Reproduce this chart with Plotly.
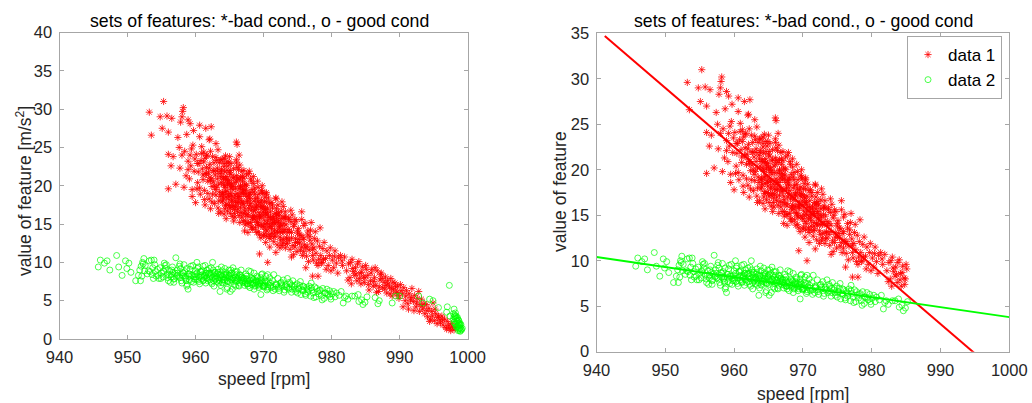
import plotly.graph_objects as go

# Values: (speed [rpm]) and (value of feature)
bad_speed_top = [953.2,955.3,953.5,954.8,955.1,955.8,956.5,956.0,958.2,958.1,958.0,957.8,958.9,959.2,960.6,962.3,961.5,959.7,958.7,957.4,
 960.6,962.0,966.0,963.0,966.4,956.0,956.7,958.0,959.4,957.6,965.0,966.0,963.7,956.4,957.7,958.9,957.1,956.0,958.3,959.5,
 958.4,958.9,959.3,959.6,960.1,960.4,960.8,958.6,959.1,959.8,960.3,960.9,959.2,959.9,960.5,961.0,961.2,960.2,960.7,961.4,959.5,961.1,961.6,960.0,966.1,962.1]
bad_value_top = [29.6,31.0,26.6,29.0,27.5,29.1,28.8,27.0,30.2,29.7,29.0,28.3,28.6,28.1,27.9,27.7,27.5,27.2,26.7,26.3,
 26.4,26.0,25.7,25.5,24.0,24.1,23.8,24.0,24.8,25.0,23.8,23.4,23.4,22.6,22.3,22.1,20.2,19.6,19.8,19.5,
 24.5,23.2,22.6,25.3,24.1,21.8,23.3,21.3,20.9,21.9,20.4,25.1,24.0,23.5,22.9,22.2,24.4,19.6,18.9,23.6,18.6,20.8,21.5,17.8,25.4,26.1]

bad_speed_a = [961.2,961.6,961.9,962.2,962.3,962.7,963.1,963.2,963.7,963.8,961.3,961.8,962.0,962.4,962.6,963.0,963.3,963.4,963.9,964.0,
 961.5,961.7,962.1,962.5,962.8,962.9,963.5,963.6,964.2,964.3,961.4,962.2,962.6,963.2,963.9,964.1,964.4,964.6,964.8,964.9,
 964.1,964.3,964.5,964.7,964.9,965.1,965.2,965.4,965.6,965.8,966.0,966.2,966.4,966.5,966.7,966.9,964.2,964.4,964.6,964.8,
 965.0,965.3,965.5,965.7,965.9,966.1,966.3,966.6,966.8,967.0,964.0,964.5,964.9,965.2,965.6,966.0,966.4,966.8,964.3,964.7,
 965.1,965.5,965.9,966.3,966.7,964.6,965.0,965.4,965.8,966.2,966.6,967.0,963.4,963.8,964.2,965.3,965.7,966.5,966.9,967.1]
bad_value_a = [23.1,22.4,21.7,24.5,20.9,23.0,19.8,22.3,21.2,20.4,19.4,20.6,18.3,19.9,22.0,18.8,24.7,20.2,23.4,19.1,
 21.6,24.0,22.8,23.8,17.7,21.4,23.0,18.6,22.5,20.0,17.5,17.0,20.5,21.9,17.9,21.1,23.9,19.3,22.6,20.7,
 18.4,21.8,17.6,20.1,23.1,19.0,21.5,17.2,22.2,18.8,20.6,16.6,19.6,22.7,18.1,21.2,16.3,19.2,22.0,17.5,
 20.3,18.7,21.0,16.9,19.7,22.4,17.8,20.0,15.9,18.9,20.9,15.7,18.2,22.9,15.4,21.3,16.1,21.9,19.8,16.7,
 17.1,19.5,17.3,18.6,19.1,20.8,21.7,16.0,20.4,17.0,21.1,17.7,16.4,22.1,23.6,20.2,18.4,15.2,20.6,22.0]

bad_speed_b = [967.0,967.2,967.3,967.5,967.7,967.8,968.0,968.2,968.3,968.5,968.7,968.8,969.0,969.2,969.3,969.5,969.7,969.8,970.0,967.1,
 967.4,967.6,967.9,968.1,968.4,968.6,968.9,969.1,969.4,969.6,969.9,970.1,967.2,967.5,967.8,968.2,968.5,968.8,969.1,969.5,
 969.8,970.2,967.3,967.7,968.0,968.4,968.7,969.0,969.3,969.7,970.0,970.3,967.6,968.1,968.6,969.2,969.6,970.4,967.1,967.9,
 970.1,970.3,970.5,970.7,970.9,971.1,971.3,971.5,971.7,971.9,972.1,972.3,972.5,972.7,972.9,970.2,970.4,970.6,970.8,971.0,
 971.2,971.4,971.6,971.8,972.0,972.2,972.4,972.6,972.8,973.0,970.3,970.7,971.1,971.5,971.9,972.3,972.7,970.5,970.9,971.3,
 971.7,972.1,972.5,972.9,973.1,969.4,970.6,971.8,972.4,973.2]
bad_value_b = [17.6,20.2,15.4,18.6,16.3,21.6,19.1,14.6,17.2,20.3,15.7,18.3,13.9,19.8,16.5,17.8,14.9,19.2,16.1,21.0,
 19.4,15.1,17.4,20.9,14.3,18.0,16.0,20.6,13.6,17.1,19.0,15.5,14.1,20.0,18.8,16.8,21.2,14.5,18.4,15.8,
 17.3,18.5,16.7,13.9,18.9,15.9,19.7,17.5,14.8,19.4,13.5,16.4,17.9,15.2,16.7,15.0,13.2,18.9,19.5,21.9,
 17.9,14.3,16.2,18.4,13.1,15.6,17.5,12.7,15.0,17.0,13.9,16.1,12.9,14.8,17.3,15.0,13.4,17.1,14.6,16.6,
 13.8,16.0,14.2,18.3,12.3,15.4,13.3,16.7,14.0,15.8,12.6,15.9,17.8,13.3,15.7,14.5,12.2,14.1,12.0,15.1,
 16.4,17.5,15.0,13.0,14.3,11.1,10.0,11.3,11.9,15.8]

bad_speed_c = [973.3,973.5,973.7,973.9,974.1,974.3,974.5,974.7,974.9,975.1,975.3,975.5,975.7,975.9,973.4,973.8,974.2,974.6,975.0,975.4,
 975.8,976.1,973.6,974.0,974.4,974.8,975.2,975.6,976.0,976.3,973.2,974.1,975.0,975.9,976.5,976.7,976.9,977.1,977.3,977.5,
 977.7,977.9,978.1,978.3,978.5,978.7,978.9,976.4,976.8,977.2,977.6,978.0,978.4,978.8,976.6,977.0,977.4,977.8,978.2,978.6,
 979.1,979.3,979.5,979.7,979.9,980.1,980.3,980.5,980.7,981.0,981.3,981.6,979.2,979.8,980.4,980.9,981.5,981.9,
 978.0,975.6,976.2,977.2,982.2,982.5,982.7,983.0,983.2,983.5,983.7,984.0,984.2,984.5,984.7,985.0,982.4,982.8,983.1,983.4,983.8,984.1,984.4,984.8,985.1,982.9,983.6,984.3,984.9]
bad_value_c = [14.9,12.5,15.6,11.7,13.9,12.2,15.0,13.1,11.4,14.4,12.5,13.5,10.9,14.8,13.2,12.9,16.2,12.0,14.1,11.6,
 13.0,15.1,14.3,16.8,11.0,15.4,13.0,15.6,12.3,10.8,11.9,10.7,12.6,11.4,13.6,11.6,14.2,12.4,10.3,13.1,
 11.2,12.8,10.4,14.5,9.9,11.8,12.6,12.1,13.4,10.9,14.0,9.6,10.9,10.4,10.1,15.2,11.9,9.9,12.1,10.0,
 10.5,11.5,9.6,10.9,8.9,10.3,9.3,11.5,9.9,10.6,10.9,9.6,9.1,11.9,10.8,8.6,10.2,10.7,
 8.2,16.6,9.3,8.2,8.9,9.8,8.0,10.4,8.8,9.3,7.6,10.1,8.6,9.4,8.1,9.6,7.7,10.0,9.2,8.3,9.8,7.9,8.7,7.4,9.1,7.2,8.5,7.2,8.0]

bad_speed_d = [985.3,985.5,985.7,985.9,986.1,986.3,986.5,986.7,986.9,987.1,987.3,987.5,987.7,987.9,988.1,988.3,988.5,988.7,988.9,989.1,
 989.3,989.5,989.7,989.9,990.1,985.4,985.8,986.2,986.6,987.0,987.4,987.8,988.2,988.6,989.0,989.4,989.8,990.2,986.4,987.2,
 988.0,988.8,989.6,990.4,990.6,990.8,991.0,991.2,991.4,991.6,991.8,992.0,992.2,992.4,992.6,992.8,993.0,993.2,993.4,993.6,
 990.5,990.9,991.3,991.7,992.1,992.5,992.9,993.3,993.7,993.9,994.1,994.3,994.5,994.7,994.9,995.1,995.3,995.5,995.7,995.9,
 994.0,994.4,994.8,995.2,995.6,996.0,996.2,996.4,996.6,996.8,997.0,997.2,997.4,997.6,997.8,998.0,998.2,996.3,996.9,997.5]
bad_value_d = [8.3,6.4,7.6,9.1,6.9,8.0,7.0,8.9,6.2,7.7,8.6,6.7,7.4,8.1,6.0,7.2,6.8,7.9,5.6,6.4,
 7.3,6.0,6.9,5.3,7.1,7.1,8.6,7.5,6.1,6.8,7.9,6.5,7.6,5.9,7.4,6.8,5.7,6.3,9.3,8.4,
 7.0,6.6,6.1,5.9,6.7,5.0,6.3,4.6,5.9,5.1,6.6,4.9,5.7,4.2,5.3,6.2,4.5,5.2,3.9,4.6,
 4.2,5.6,3.9,5.4,3.7,4.7,3.6,4.3,3.3,4.5,2.9,4.0,2.6,3.6,4.7,2.4,3.3,2.0,3.0,2.5,
 3.7,2.3,3.0,3.9,2.8,2.1,3.0,1.8,2.6,1.5,2.3,1.8,1.4,2.0,1.6,1.2,1.5,2.5,1.3,1.1]

bad_speed_e = [960.3,960.6,960.9,961.1,961.3,961.6,961.8,962.0,962.2,962.4,962.7,962.9,963.1,963.3,963.5,963.8,964.0,964.2,964.4,964.6,
 964.9,965.1,965.3,965.5,965.8,966.0,966.2,966.4,966.6,966.9,967.1,967.3,967.5,967.7,968.0,968.2,968.4,968.6,968.9,969.1,
 969.3,969.5,969.8,970.0,970.2,970.4,970.6,970.9,971.1,971.3,971.6,971.8,972.0,972.2,972.5,972.7,973.0,973.2,973.5,973.7,
 962.1,962.5,962.8,963.0,963.4,963.6,963.9,964.1,964.3,964.5,964.7,965.0,965.2,965.4,965.6,965.9,966.1,966.3,966.5,966.7,
 967.0,967.2,967.4,967.6,967.8,968.1,968.3,968.5,968.7,969.0,969.2,969.4,969.7,969.9,970.1,970.3,970.5,970.8,971.0,971.2,
 971.5,971.7,972.0,972.3,972.6,972.9,973.1,973.4,973.8,974.1,974.4,974.7,975.0,975.3,975.6,975.9,976.2,976.5,976.8,977.2,
 963.2,963.7,964.4,964.8,965.2,965.7,966.1,966.6,967.0,967.4,967.9,968.3,968.8,969.2,969.6,970.0,970.5,970.9,971.4,971.9,
 964.0,964.6,965.1,965.6,966.2,966.8,967.3,967.8,968.4,968.9,969.4,969.9,970.4,971.0,971.6,972.1,972.8,973.3,974.0,974.6]
bad_value_e = [22.9,19.7,24.2,21.4,18.2,23.9,19.0,22.3,20.7,17.9,21.9,19.5,23.3,17.1,19.2,21.9,18.1,22.9,17.4,21.2,
 18.6,22.0,17.9,19.9,15.9,23.0,18.4,20.8,17.2,19.6,16.4,19.0,21.4,16.0,18.3,20.6,15.6,19.2,17.3,15.2,
 18.9,16.2,20.0,14.6,17.0,19.1,15.4,17.7,14.7,17.1,15.4,18.4,14.1,16.5,14.0,17.9,15.1,16.6,13.9,15.8,
 21.1,18.9,20.0,23.7,18.0,21.6,18.9,20.2,17.0,18.5,20.5,17.4,20.0,18.1,21.1,17.9,19.0,22.1,18.6,16.5,
 19.2,17.1,20.1,18.0,15.1,17.7,19.5,16.1,18.9,15.3,17.9,15.9,18.1,16.6,13.7,16.9,15.1,13.6,15.9,14.4,
 15.2,13.4,16.3,14.7,15.7,14.0,16.0,13.1,14.1,13.2,14.7,12.6,13.8,13.6,12.0,13.2,11.9,14.1,12.9,11.7,
 20.9,16.6,20.9,18.8,19.7,16.4,17.8,19.9,15.4,16.2,18.4,14.6,16.9,14.0,17.4,17.2,16.5,14.9,15.8,16.2,
 18.9,23.1,16.4,17.4,21.0,17.9,14.9,17.0,15.9,17.2,16.0,14.7,17.9,13.4,13.8,15.2,12.5,12.4,15.3,15.6]

good_speed_a = [945.7,946.0,947.0,946.6,947.4,948.4,948.7,949.2,949.7,950.2,949.9,950.5,951.2,951.6,951.8,952.0,952.2,952.4,952.1,952.5,
 952.6,952.9,953.2,953.5,953.7,953.9,953.3,953.6,954.0,954.2,954.4,954.6,954.8,955.0,955.2,955.4,955.6,955.8,954.1,954.5,
 954.9,955.3,955.7,956.0,956.2,956.4,956.6,956.8,957.0,957.1,957.3,957.5,957.7,957.9,958.1,958.3,958.5,958.7,958.9,959.1,
 956.1,956.5,956.9,957.2,957.6,958.0,958.4,958.8,959.2,959.4,959.6,959.8,960.0,957.4,957.8,958.2,958.6,959.0,959.3,959.7,
 955.5,956.3,956.7,952.3,951.9,953.1,953.8,958.7,959.9,960.2]
good_value_a = [9.4,10.3,10.2,9.9,9.0,10.9,9.4,8.3,10.2,9.9,9.2,8.7,7.6,8.3,9.0,9.5,10.0,10.5,8.2,8.9,
 9.6,8.5,10.2,10.3,9.3,10.3,8.8,8.4,9.7,8.2,9.1,7.9,9.3,8.6,8.1,9.9,9.2,8.4,8.8,8.3,
 7.9,8.8,9.7,7.6,8.9,8.1,9.4,7.4,8.6,10.6,9.0,8.1,9.8,7.6,8.7,9.7,8.0,9.2,6.5,7.7,
 8.4,9.0,7.9,8.2,9.5,7.3,8.8,7.1,9.1,8.3,9.6,7.8,8.9,8.6,9.2,8.2,7.6,8.5,9.5,7.4,
 9.6,7.4,8.7,9.8,7.6,8.9,7.9,6.9,8.1,10.0]

good_speed_b = [960.1,960.3,960.5,960.7,960.9,961.1,961.3,961.5,961.7,961.9,962.1,962.3,962.5,962.7,962.9,963.1,963.3,963.5,963.7,963.9,
 964.1,964.3,964.5,964.7,964.9,965.1,965.3,965.5,965.7,965.9,966.1,966.3,966.5,966.7,966.9,960.2,960.6,961.0,961.4,961.8,
 962.2,962.6,963.0,963.4,963.8,964.2,964.6,965.0,965.4,965.8,966.2,966.6,967.0,960.4,960.8,961.2,961.6,962.0,962.4,962.8,
 963.2,963.6,964.0,964.4,964.8,965.2,965.6,966.0,966.4,966.8,967.2,967.4,967.6,967.8,968.0,968.2,968.4,968.6,968.8,969.0,
 969.2,969.4,969.6,969.8,970.0,967.1,967.3,967.5,967.7,967.9,968.1,968.3,968.5,968.7,968.9,969.1,969.3,969.5,969.7,969.9,
 962.5,963.6,964.6,965.1,965.9,967.6,968.6,969.6,969.7,970.6]
good_value_b = [8.1,9.2,7.5,8.8,7.9,9.5,8.2,7.3,9.0,8.5,7.7,9.3,8.0,6.9,8.7,7.5,9.1,8.4,7.0,8.9,
 7.7,9.2,8.3,6.7,9.0,7.4,8.6,9.3,7.1,8.0,8.8,7.0,8.4,9.0,7.4,8.6,7.2,8.9,9.6,7.6,
 8.3,9.0,7.9,7.8,9.4,8.4,7.6,8.2,6.5,8.8,7.9,8.3,7.6,9.4,8.3,7.7,8.6,9.2,7.2,8.2,
 8.5,8.0,7.3,8.7,7.5,9.0,7.9,8.4,6.9,8.1,7.0,8.5,7.7,8.9,6.7,8.0,7.3,8.6,7.0,8.2,
 7.5,6.9,8.0,8.5,6.8,7.9,7.3,8.2,6.9,7.6,8.8,7.1,7.8,6.9,7.4,8.0,6.7,7.3,8.4,6.9,
 10.0,6.2,6.5,6.2,6.9,7.2,6.5,5.8,7.1,8.4]

good_speed_e = [958.2,958.6,959.0,959.4,959.9,960.3,960.8,961.1,961.4,961.7,962.0,962.3,962.6,962.9,963.2,963.5,963.8,964.1,964.4,964.7,
 965.0,965.3,965.6,965.9,966.2,966.5,966.8,967.1,967.4,967.7,968.0,968.3,968.6,968.9,969.2,969.5,969.8,970.1,970.4,970.7,
 961.2,961.6,962.2,962.7,963.1,963.4,963.7,964.0,964.3,964.6,964.9,965.2,965.5,965.8,966.1,966.4,966.7,967.0,967.3,967.6,
 968.1,968.5,968.9,969.3,969.7,970.2,970.6,971.0,971.4,971.8,972.2,972.7,973.2,973.7,974.2,974.7,975.2,975.8,976.4,977.0,
 955.3,955.9,956.4,956.8,957.3,957.7,958.0,958.5,959.1,959.6,960.0,960.5,961.0,961.5,962.1,962.8,963.3,963.9,964.5,965.1]
good_value_e = [8.6,7.8,8.2,7.5,8.4,7.7,8.8,7.6,8.3,7.9,8.6,7.4,8.5,7.8,8.0,7.6,8.4,7.8,8.1,7.5,
 8.0,7.7,8.4,7.5,7.9,7.3,8.0,7.6,7.9,7.2,7.7,7.9,7.3,7.7,7.1,7.6,7.4,6.9,7.5,7.1,
 8.1,8.0,8.6,7.6,8.2,7.3,8.3,8.1,7.7,8.0,8.3,7.8,8.0,7.7,7.6,8.1,7.7,7.9,7.5,7.2,
 7.3,7.7,7.5,7.2,7.6,7.3,6.6,7.0,6.8,7.2,6.8,7.1,6.9,6.7,7.0,6.5,6.6,6.9,6.5,6.7,
 8.9,8.0,8.4,7.8,8.3,8.0,8.4,8.2,8.5,8.3,7.8,8.1,8.4,8.6,8.1,8.7,8.7,7.4,8.5,8.5]

good_speed_c = [970.1,970.3,970.5,970.7,970.9,971.1,971.3,971.5,971.7,971.9,972.1,972.3,972.5,972.7,972.9,973.1,973.3,973.5,973.7,973.9,
 974.1,974.3,974.5,974.7,974.9,975.1,975.3,975.5,975.7,975.9,976.1,976.3,976.5,976.7,976.9,977.1,977.3,977.5,977.7,977.9,
 978.1,978.3,978.5,978.7,978.9,979.1,979.3,979.5,979.7,979.9,980.1,980.3,980.5,980.7,981.1,981.4,981.7,981.9,982.1,982.4,
 970.2,970.6,971.0,971.4,971.8,972.2,972.6,973.0,973.4,973.8,974.2,974.6,975.0,975.4,975.8,976.2,976.6,977.0,977.4,977.8,
 978.2,978.6,979.0,979.4,979.8,983.0,983.4,983.9,984.0,984.4,984.6,984.9,985.2,986.4,986.8,987.0,988.9,989.4,990.0,992.8,
 993.4,994.4,994.9,995.7,997.0,997.3,997.4,998.0,996.9]
good_value_c = [7.0,8.2,6.4,7.5,8.0,6.7,7.6,8.4,6.5,7.1,7.9,6.3,7.3,6.9,7.7,6.4,7.1,7.9,6.5,7.2,
 6.1,7.6,6.8,6.2,7.2,6.5,7.0,5.8,6.4,6.8,5.9,6.7,6.1,6.9,5.6,6.4,6.0,6.8,5.5,6.2,
 5.9,6.4,5.6,6.6,5.3,6.0,6.5,5.7,6.3,5.2,5.9,6.2,5.5,6.0,5.7,6.2,4.7,5.4,5.6,5.2,
 7.6,6.8,7.3,6.3,7.0,6.6,7.4,6.1,6.8,7.4,6.5,7.0,6.0,7.5,6.3,5.7,6.4,7.3,5.4,6.6,
 6.3,5.1,6.0,5.9,5.5,5.6,5.6,5.8,4.9,5.1,4.5,4.8,5.5,5.4,4.6,5.0,4.7,5.6,5.6,5.6,
 4.7,5.2,5.0,4.1,4.2,7.0,3.0,3.9,3.5]

good_speed_d = [997.9,998.0,998.1,998.2,998.3,998.4,998.5,998.6,998.7,998.8,998.9,999.0,999.1,998.0,998.2,998.3,998.4,998.5,998.6,998.7,
 998.8,998.9,997.9,998.1,998.2,998.3,998.5,998.6,998.7,998.9,999.0,999.2,998.4,998.6,998.8,998.9]
good_value_d = [3.3,2.9,3.1,2.6,3.0,2.4,2.8,2.1,2.4,1.8,1.5,1.9,1.2,2.2,3.4,2.0,2.7,1.7,2.5,1.3,
 2.1,1.1,2.6,2.0,2.9,1.6,2.3,1.5,1.9,1.9,1.3,1.4,1.6,1.1,1.4,1.0]

fit_speed = [941.2, 995.0]
fit_bad = [34.7, -0.2]
fit_speed_good = [940, 1000]
fit_good = [10.4, 3.8]

bad_speed = bad_speed_top + bad_speed_a + bad_speed_b + bad_speed_e + bad_speed_c + bad_speed_d
bad_value = bad_value_top + bad_value_a + bad_value_b + bad_value_e + bad_value_c + bad_value_d
good_speed = good_speed_a + good_speed_b + good_speed_e + good_speed_c + good_speed_d
good_value = good_value_a + good_value_b + good_value_e + good_value_c + good_value_d
limit = 985.2
bad_right = [(s, v) for s, v in zip(bad_speed, bad_value) if s <= limit]
good_right = [(s, v) for s, v in zip(good_speed, good_value) if s <= limit]

W, H = 1032, 403
RED, GREEN = "#ff0000", "#00ff00"
FONT = "Liberation Sans, Arial, sans-serif"
INK = "#262626"
AX = "#a6a6a6"

def red(x, y, xa, ya, show):
    return go.Scatter(x=x, y=y, xaxis=xa, yaxis=ya, mode="markers", name="data 1", showlegend=show,
                      marker=dict(symbol="asterisk-open", size=6, color=RED, line=dict(color=RED, width=0.8)))

def green(x, y, xa, ya, show):
    return go.Scatter(x=x, y=y, xaxis=xa, yaxis=ya, mode="markers", name="data 2", showlegend=show,
                      marker=dict(symbol="circle-open", size=6, color=GREEN, line=dict(color=GREEN, width=0.7)))

fig = go.Figure()
fig.add_trace(red(bad_speed, bad_value, "x", "y", False))
fig.add_trace(green(good_speed, good_value, "x", "y", False))
fig.add_trace(red([p[0] for p in bad_right], [p[1] for p in bad_right], "x2", "y2", True))
fig.add_trace(green([p[0] for p in good_right], [p[1] for p in good_right], "x2", "y2", True))
fig.add_trace(go.Scatter(x=fit_speed, y=fit_bad, xaxis="x2", yaxis="y2", mode="lines", showlegend=False,
                         line=dict(color=RED, width=2)))
fig.add_trace(go.Scatter(x=fit_speed_good, y=fit_good, xaxis="x2", yaxis="y2", mode="lines", showlegend=False,
                         line=dict(color=GREEN, width=2)))

def axis(dom, rng, dtick, anchor):
    return dict(domain=dom, range=rng, dtick=dtick, anchor=anchor, showgrid=False, zeroline=False, showline=True,
                linecolor=AX, linewidth=1, mirror="ticks", ticks="inside", ticklen=4, tickcolor=AX, tickwidth=1,
                automargin=False, ticklabelstandoff=3, tickfont=dict(size=16.5, color=INK, family=FONT))

def label(text, x, y, size=17.5, angle=0, color=INK):
    return dict(text=text, xref="paper", yref="paper", x=x/W, y=1-y/H, xanchor="center", yanchor="middle",
                showarrow=False, textangle=angle, font=dict(size=size, color=color, family=FONT))

TITLE = "sets of features: *-bad cond., o - good cond"
fig.update_layout(
    width=W, height=H, margin=dict(l=0, r=0, t=0, b=0), paper_bgcolor="white", plot_bgcolor="white",
    font=dict(family=FONT),
    xaxis=axis([59.5/W, 467.7/W], [940, 1000], 10, "y"),
    yaxis=axis([1-339/H, 1-32.5/H], [0, 40], 5, "x"),
    xaxis2=axis([596.5/W, 1009.3/W], [940, 1000], 10, "y2"),
    yaxis2=axis([1-351.7/H, 1-33.3/H], [0, 35], 5, "x2"),
    legend=dict(x=1002/W, xanchor="right", y=1-36/H, yanchor="top", bgcolor="white", bordercolor=AX, borderwidth=1,
                font=dict(size=17, color="#000000", family=FONT), itemsizing="trace", itemwidth=30),
    annotations=[
        label(TITLE, 259, 21, 17.7, color="#000000"),
        label(TITLE, 803, 21, 17.7, color="#000000"),
        label("speed [rpm]", 263.5, 379),
        label("speed [rpm]", 803, 394),
        label("value of feature [m/s<sup>2</sup>]", 24, 191, angle=-90),
        label("value of feature", 560, 192, angle=-90),
    ],
)
fig.write_html("out.html", post_script="document.body.style.margin='0';", config={"displayModeBar": False})
